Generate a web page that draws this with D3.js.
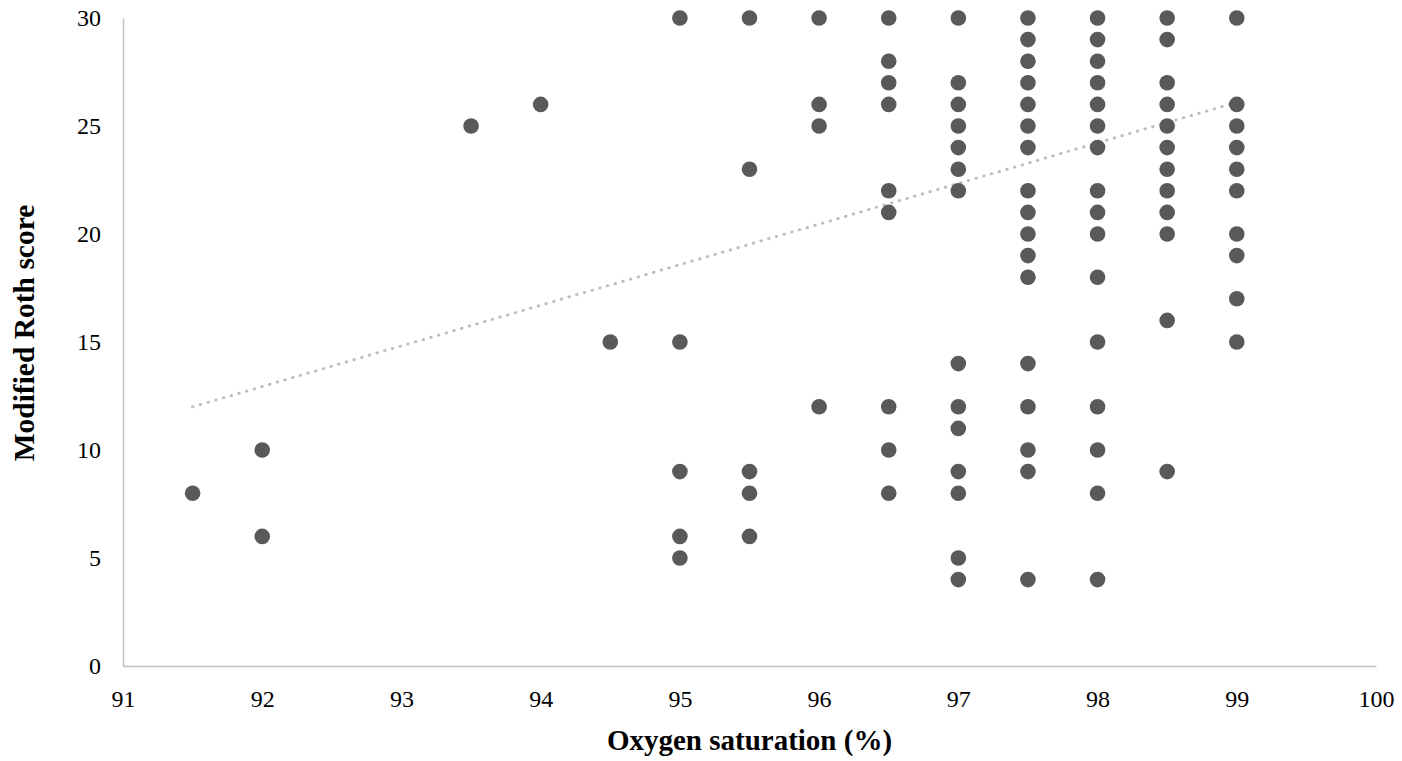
<!DOCTYPE html>
<html>
<head>
<meta charset="utf-8">
<script src="https://cdn.jsdelivr.net/npm/d3@7"></script>
<style>
  body { margin: 0; background: #fff; }
  text { font-family: "Liberation Serif", "Times New Roman", serif; fill: #000; }
</style>
</head>
<body>
<div id="chart"></div>
<script>
// Oxygen saturation (%) and the modified Roth scores seen at each value
var satLevels = [91.5, 92, 93.5, 94, 94.5, 95, 95.5, 96, 96.5, 97, 97.5, 98, 98.5, 99];
var rothScores = [
    [8],
    [10, 6],
    [25],
    [26],
    [15],
    [30, 15, 9, 6, 5],
    [30, 23, 9, 8, 6],
    [30, 26, 25, 12],
    [30, 28, 27, 26, 22, 21, 12, 10, 8],
    [30, 27, 26, 25, 24, 23, 22, 14, 12, 11, 9, 8, 5, 4],
    [30, 29, 28, 27, 26, 25, 24, 22, 21, 20, 19, 18, 14, 12, 10, 9, 4],
    [30, 29, 28, 27, 26, 25, 24, 22, 21, 20, 18, 15, 12, 10, 8, 4],
    [30, 29, 27, 26, 25, 24, 23, 22, 21, 20, 16, 9],
    [30, 26, 25, 24, 23, 22, 20, 19, 17, 15]
];
// linear trendline end points
var trendX = [91.5, 99];
var trendY = [12.0, 26.1];

var xTicks = [91, 92, 93, 94, 95, 96, 97, 98, 99, 100];
var yTicks = [0, 5, 10, 15, 20, 25, 30];

var points = [];
satLevels.forEach(function(s, i) {
    rothScores[i].forEach(function(r) { points.push({ sat: s, roth: r }); });
});

var W = 1402, H = 761;
var margin = { top: 18, right: 26, bottom: 95, left: 123 },
    width = W - margin.left - margin.right,
    height = H - margin.top - margin.bottom;

var svg = d3.select("#chart")
    .append("svg")
    .attr("width", W)
    .attr("height", H)
    .append("g")
    .attr("transform", "translate(" + margin.left + "," + margin.top + ")");

var x = d3.scaleLinear().domain([91, 100]).range([0, width]);
var y = d3.scaleLinear().domain([0, 30]).range([height, 0]);

// axes: plain light grey lines, no tick marks
var xAxis = svg.append("g")
    .attr("transform", "translate(0," + height + ")")
    .call(d3.axisBottom(x).tickValues(xTicks).tickSize(0).tickPadding(24).tickFormat(d3.format("d")));
xAxis.select(".domain").attr("stroke", "#bfbfbf").attr("stroke-width", 1.5);
xAxis.selectAll("text").style("font-size", "24px").attr("fill", "#000");

var yAxis = svg.append("g")
    .call(d3.axisLeft(y).tickValues(yTicks).tickSize(0).tickPadding(22).tickFormat(d3.format("d")));
yAxis.select(".domain").attr("stroke", "#bfbfbf").attr("stroke-width", 1.5);
yAxis.selectAll("text").style("font-size", "24px").attr("fill", "#000");

// dotted trendline
svg.append("line")
    .attr("x1", x(trendX[0]))
    .attr("y1", y(trendY[0]))
    .attr("x2", x(trendX[1]))
    .attr("y2", y(trendY[1]))
    .attr("stroke", "#bfbfbf")
    .attr("stroke-width", 3)
    .attr("stroke-linecap", "round")
    .attr("stroke-dasharray", "0.5 7.5");

// the points
svg.selectAll(".dot")
    .data(points)
    .enter()
    .append("circle")
    .attr("class", "dot")
    .attr("cx", function(d) { return x(d.sat); })
    .attr("cy", function(d) { return y(d.roth); })
    .attr("r", 7.8)
    .attr("fill", "#595959");

// axis titles
svg.append("text")
    .attr("x", width / 2)
    .attr("y", height + 84)
    .attr("text-anchor", "middle")
    .style("font-size", "29px")
    .style("font-weight", "bold")
    .text("Oxygen saturation (%)");

svg.append("text")
    .attr("transform", "rotate(-90)")
    .attr("x", -315)
    .attr("y", -89)
    .attr("text-anchor", "middle")
    .style("font-size", "29.5px")
    .style("font-weight", "bold")
    .text("Modified Roth score");
</script>
</body>
</html>
